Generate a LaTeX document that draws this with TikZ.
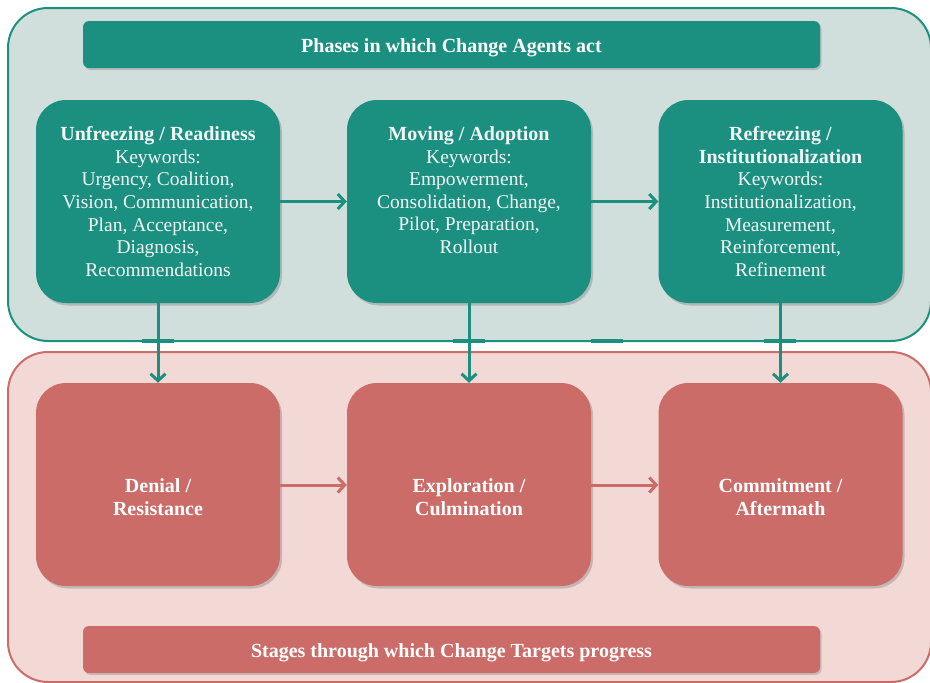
\documentclass[tikz,border=0pt]{standalone}
\usepackage{fontspec}
\setmainfont{Liberation Serif}
\usetikzlibrary{arrows.meta,shadows}
\definecolor{tealc}{RGB}{27,144,128}
\definecolor{tealbg}{RGB}{208,223,220}
\definecolor{redc}{RGB}{203,108,105}
\definecolor{redbg}{RGB}{243,217,213}
\definecolor{txtc}{RGB}{242,246,245}
\tikzset{
  panel/.style={rounded corners=40pt, line width=2pt, inner sep=0pt},
  banner/.style={rounded corners=6pt, minimum width=737pt, minimum height=47pt, inner sep=0pt,
     drop shadow={shadow xshift=1.5pt, shadow yshift=-2pt, opacity=0.35}},
  bannertext/.style={inner sep=0pt, text=white, font=\fontsize{20}{22}\selectfont\bfseries},
  box/.style={rounded corners=30pt, minimum width=244pt, minimum height=203pt, inner sep=0pt,
     drop shadow={shadow xshift=2pt, shadow yshift=-2.5pt, opacity=0.4}},
  topbox/.style={box, fill=tealc},
  botbox/.style={box, fill=redc},
  toptext/.style={anchor=north, align=center, inner sep=0pt, text=txtc,
     font=\fontsize{19.5}{22.6}\selectfont},
  bottext/.style={align=center, inner sep=0pt, text=white,
     font=\fontsize{20}{22.6}\selectfont\bfseries},
  conn/.style={line width=3pt, -{Straight Barb[length=7pt,width=15pt,line width=3pt]}},
  tick/.style={fill=tealc, inner sep=0pt, minimum width=32pt, minimum height=3.5pt},
}
\begin{document}
\begin{tikzpicture}[x=1pt,y=-1pt]
\useasboundingbox (0,0) rectangle (930,683);
% panels
\node[panel, draw=tealc, fill=tealbg, minimum width=923pt, minimum height=333pt] (toppanel) at (469.5,174.5) {};
\node[panel, draw=redc, fill=redbg, minimum width=923pt, minimum height=330pt] (botpanel) at (469.5,517) {};
% banners
\node[banner, fill=tealc] (topban) at (451.5,44.5) {};
\node[banner, fill=redc] (botban) at (451.5,649.5) {};
\node[bannertext] (topbantext) at (451.5,47.5) {Phases in which Change Agents act};
\node[bannertext] (botbantext) at (451.5,653) {Stages through which Change Targets progress};
% top boxes
\node[topbox] (u1) at (158,201.5) {};
\node[topbox] (u2) at (469,201.5) {};
\node[topbox] (u3) at (780.5,201.5) {};
% bottom boxes
\node[botbox] (d1) at (158,484.5) {};
\node[botbox] (d2) at (469,484.5) {};
\node[botbox] (d3) at (780.5,484.5) {};
% texts
\node[toptext] (t1) at (158,126.5) {\textbf{\fontsize{20}{22.6}\selectfont Unfreezing / Readiness}\\Keywords:\\Urgency, Coalition,\\Vision, Communication,\\Plan, Acceptance,\\Diagnosis,\\Recommendations};
\node[toptext] (t2) at (469,126.5) {\textbf{\fontsize{20}{22.6}\selectfont Moving / Adoption}\\Keywords:\\Empowerment,\\Consolidation, Change,\\Pilot, Preparation,\\Rollout};
\node[toptext] (t3) at (780.5,126.5) {\textbf{\fontsize{20}{22.6}\selectfont Refreezing /}\\\textbf{\fontsize{20}{22.6}\selectfont Institutionalization}\\Keywords:\\Institutionalization,\\Measurement,\\Reinforcement,\\Refinement};
\node[bottext] (b1) at (158,497) {Denial /\\Resistance};
\node[bottext] (b2) at (469,497) {Exploration /\\Culmination};
\node[bottext] (b3) at (780.5,497) {Commitment /\\Aftermath};
% ticks
\node[tick] (k1) at (158,341) {};
\node[tick] (k2) at (469,341) {};
\node[tick] (k3) at (607,341) {};
\node[tick] (k4) at (780,341) {};
% connectors
\draw[conn, tealc] (u1.east) -- (u2.west);
\draw[conn, tealc] (u2.east) -- (u3.west);
\draw[conn, redc] (d1.east |- 0,485) -- (d2.west |- 0,485);
\draw[conn, redc] (d2.east |- 0,485) -- (d3.west |- 0,485);
\draw[conn, tealc] (u1.south) -- (d1.north);
\draw[conn, tealc] (u2.south) -- (d2.north);
\draw[conn, tealc] (u3.south) -- (d3.north);
\end{tikzpicture}
\end{document}
